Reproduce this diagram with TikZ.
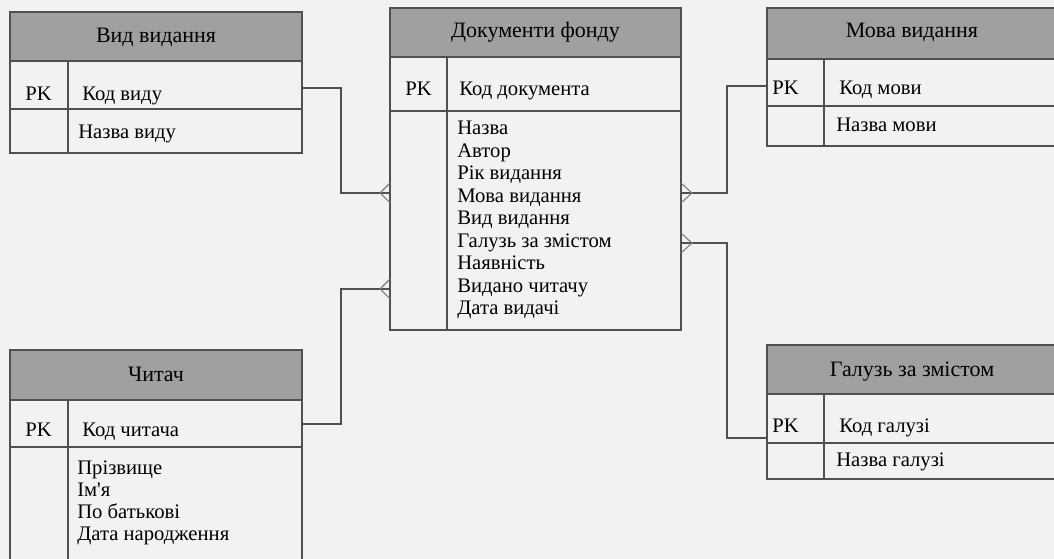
\documentclass[tikz,border=0pt]{standalone}
\usepackage{fontspec}
\setmainfont{Liberation Serif}[Ligatures=TeXOff]
\usetikzlibrary{fit}
\definecolor{bg}{HTML}{F2F2F2}
\definecolor{hdr}{HTML}{A0A0A0}
\definecolor{ln}{HTML}{505050}
\begin{document}
\begin{tikzpicture}[x=0.75pt,y=-0.75pt,
  ent/.style={draw=ln,line width=1.3pt,inner sep=0pt,outer sep=0pt},
  hd/.style={fill=hdr,draw=ln,line width=1.3pt},
  sep/.style={draw=ln,line width=1.3pt},
  txt/.style={font=\fontsize{15.5}{17}\selectfont,inner sep=0pt,text=black},
  htxt/.style={font=\fontsize{16.5}{18}\selectfont,inner sep=0pt,text=black},
  conn/.style={draw=ln,line width=1.3pt},
  crow/.style={draw=ln!75,line width=0.8pt}]
\useasboundingbox (0,0) rectangle (1054,559);
\fill[bg] (0,0) rectangle (1054,559);
\clip (0,0) rectangle (1054,559);

% ---- Вид видання
\filldraw[hd] (10,12) rectangle (302,61);
\node[ent,fit={(10,12)(302,153)}] (vid) {};
\draw[sep] (10,109) -- (302,109);
\draw[sep] (68,61) -- (68,153);
\node[htxt,anchor=base] (vidh) at (156,43) {Вид видання};
\node[txt,anchor=base west] (vidpk) at (25,101) {PK};
\node[txt,anchor=base west] (vidk) at (82,101) {Код виду};
\node[txt,anchor=base west] (vidn) at (78,139) {Назва виду};

% ---- Документи фонду
\filldraw[hd] (390,8) rectangle (681,57);
\node[ent,fit={(390,8)(681,330)}] (doc) {};
\draw[sep] (390,111) -- (681,111);
\draw[sep] (447,57) -- (447,330);
\node[htxt,anchor=base] (doch) at (535.5,38) {Документи фонду};
\node[txt,anchor=base west] (docpk) at (405,96) {PK};
\node[txt,anchor=base west] (dock) at (459,96) {Код документа};
\foreach \t [count=\i] in {Назва,Автор,Рік видання,Мова видання,Вид видання,Галузь за змістом,Наявність,Видано читачу,Дата видачі}
  \node[txt,anchor=base west] (doca\i) at (457,{135+22.5*(\i-1)}) {\t};

% ---- Мова видання
\filldraw[hd] (767,8) rectangle (1057,59);
\node[ent,fit={(767,8)(1057,146)}] (mova) {};
\draw[sep] (767,106) -- (1057,106);
\draw[sep] (824,59) -- (824,146);
\node[htxt,anchor=base] (movah) at (912,38) {Мова видання};
\node[txt,anchor=base west] (movapk) at (772,95) {PK};
\node[txt,anchor=base west] (movak) at (839,95) {Код мови};
\node[txt,anchor=base west] (movan) at (836,132) {Назва мови};

% ---- Галузь за змістом
\filldraw[hd] (767,345) rectangle (1057,394);
\node[ent,fit={(767,345)(1057,479)}] (gal) {};
\draw[sep] (767,443) -- (1057,443);
\draw[sep] (824,394) -- (824,479);
\node[htxt,anchor=base] (galh) at (912,377) {Галузь за змістом};
\node[txt,anchor=base west] (galpk) at (772,433) {PK};
\node[txt,anchor=base west] (galk) at (839,433) {Код галузі};
\node[txt,anchor=base west] (galn) at (836,467) {Назва галузі};

% ---- Читач
\filldraw[hd] (10,350) rectangle (302,400);
\node[ent,fit={(10,350)(302,590)}] (chit) {};
\draw[sep] (10,447) -- (302,447);
\draw[sep] (68,400) -- (68,590);
\node[htxt,anchor=base] (chith) at (156,382) {Читач};
\node[txt,anchor=base west] (chitpk) at (25,437) {PK};
\node[txt,anchor=base west] (chitk) at (82,437) {Код читача};
\foreach \t [count=\i] in {Прізвище,Ім'я,По батькові,Дата народження}
  \node[txt,anchor=base west] (chita\i) at (77,{475+21.7*(\i-1)}) {\t};

% ---- connectors
\draw[conn] (vid.east |- 0,88) -- (341,88) -- (341,193) -- (doc.west |- 0,193);
\draw[crow] (doc.west |- 0,183) -- ++(-10,10) -- ++(10,10);
\draw[conn] (chit.east |- 0,424) -- (341,424) -- (341,289) -- (doc.west |- 0,289);
\draw[crow] (doc.west |- 0,279) -- ++(-10,10) -- ++(10,10);
\draw[conn] (doc.east |- 0,193) -- (727,193) -- (727,86) -- (mova.west |- 0,86);
\draw[crow] (doc.east |- 0,183) -- ++(11,10) -- ++(-11,10);
\draw[conn] (doc.east |- 0,243) -- (727,243) -- (727,438) -- (gal.west |- 0,438);
\draw[crow] (doc.east |- 0,233) -- ++(11,10) -- ++(-11,10);
\end{tikzpicture}
\end{document}
